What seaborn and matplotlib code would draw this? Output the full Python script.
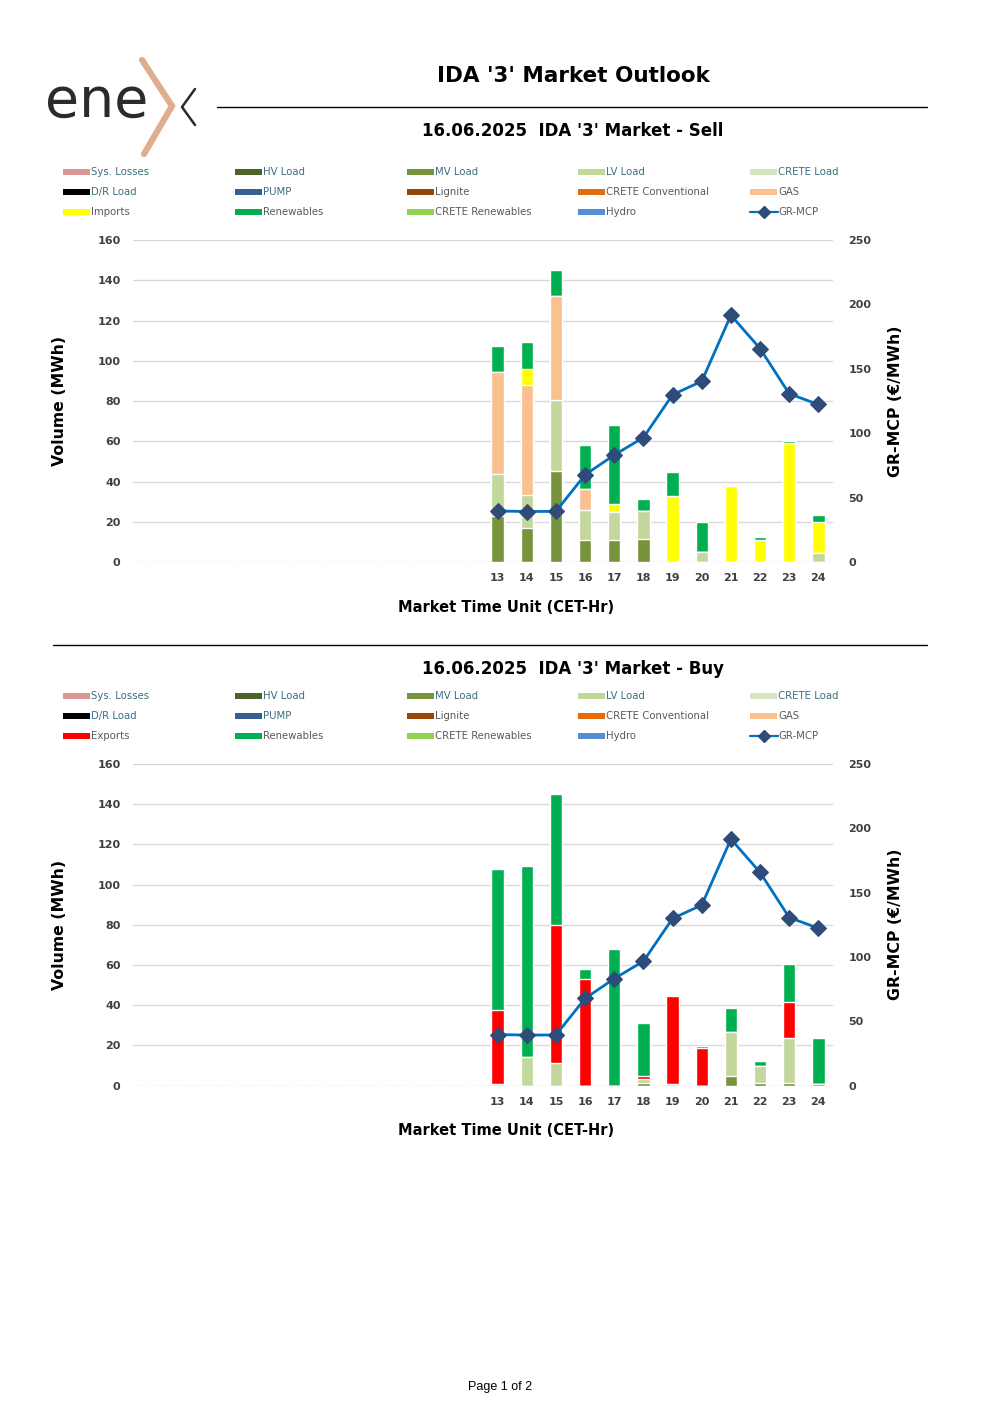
import numpy as np
import pandas as pd
import matplotlib
matplotlib.use("Agg")
import matplotlib.pyplot as plt
import seaborn as sns
from matplotlib.lines import Line2D
from matplotlib.patches import Rectangle

# hours of the day (only 13-24 traded in IDA 3)
hours = [str(h) for h in range(1, 25)]
active_hours = [str(h) for h in range(13, 25)]

# GR-MCP price, €/MWh, hours 13-24
gr_mcp = [39.6, 39.2, 39.3, 67.7, 83.1, 96.6, 129.9, 140.3, 191.6, 165.7, 130.6, 122.3]

# Sell side, MWh, hours 13-24
sell_mv_load = [22.7, 17.1, 45.4, 11.1, 10.9, 11.4, 0, 0, 0, 0, 0, 0]
sell_lv_load = [21.2, 16.0, 35.0, 14.9, 14.1, 13.8, 0, 5.0, 0, 0, 0, 4.5]
sell_gas = [50.7, 54.9, 51.8, 10.1, 0, 0, 0, 0, 0, 0, 0, 0]
sell_imports = [0, 7.9, 0, 0, 3.7, 0, 32.6, 0, 37.6, 10.8, 59.2, 15.5]
sell_renewables = [12.9, 13.3, 13.1, 21.9, 39.6, 6.1, 12.0, 15.0, 0.8, 1.8, 1.1, 3.5]

# Buy side, MWh, hours 13-24
buy_mv_load = [0, 0, 0, 0, 0, 1.3, 0, 0, 4.8, 1.0, 1.0, 0.8]
buy_lv_load = [0.7, 14.3, 11.3, 0, 0, 1.7, 0.8, 0, 21.9, 8.8, 22.8, 0]
buy_exports = [37.0, 0, 68.6, 53.0, 0, 1.8, 43.6, 18.8, 0, 0, 17.9, 0]
buy_renewables = [69.8, 94.8, 65.3, 4.8, 67.9, 26.3, 0, 1.0, 11.7, 2.3, 18.6, 22.6]

colors = {
    "Sys. Losses": "#DA9694", "HV Load": "#4F6228", "MV Load": "#77933C",
    "LV Load": "#C3D69B", "CRETE Load": "#D7E4BD", "D/R Load": "#000000",
    "PUMP": "#376092", "Lignite": "#974806", "CRETE Conventional": "#E46C0A",
    "GAS": "#FAC090", "Imports": "#FFFF00", "Exports": "#FF0000",
    "Renewables": "#00B050", "CRETE Renewables": "#92D050", "Hydro": "#558ED5",
}
LINE_C = "#0070C0"
MARK_C = "#2E4B7A"
TICK_C = "#404040"

sns.set_theme(style="white")
plt.rcParams["font.family"] = ["DejaVu Sans"]
plt.rcParams["text.color"] = "black"

W, H = 1000, 1415
fig = plt.figure(figsize=(10, 14.15), dpi=100)


def fx(x):
    return x / W


def fy(y):
    return 1 - y / H


def pad(vals):
    return [0.0] * 12 + list(vals)


def draw_legend(y0, third):
    names = ["Sys. Losses", "HV Load", "MV Load", "LV Load", "CRETE Load",
             "D/R Load", "PUMP", "Lignite", "CRETE Conventional", "GAS",
             third, "Renewables", "CRETE Renewables", "Hydro", "GR-MCP"]
    teal = {"Sys. Losses", "HV Load", "MV Load", "LV Load", "CRETE Load", "D/R Load", "PUMP"}
    cols = [63, 235, 407, 578, 750]
    for i, name in enumerate(names):
        x = cols[i % 5]
        y = y0 + 20 * (i // 5)
        if name == "GR-MCP":
            fig.add_artist(Line2D([fx(x), fx(x + 28)], [fy(y), fy(y)], color=LINE_C, lw=1.6))
            fig.add_artist(Line2D([fx(x + 14)], [fy(y)], marker="D", color=MARK_C, markersize=6))
        else:
            fig.add_artist(Rectangle((fx(x), fy(y + 3)), 27 / W, 6 / H,
                                     transform=fig.transFigure, color=colors[name], lw=0))
        fig.text(fx(x + 28), fy(y), name, fontsize=7.3, va="center", ha="left",
                 color="#3B6E80" if name in teal else "#595959")


def draw_market(top, bottom, series, subtitle, sub_y, third, leg_y):
    ax = fig.add_axes([fx(133), fy(bottom), 700 / W, (bottom - top) / H])

    # stacked bars: draw cumulative totals, tallest first
    cum = np.zeros(24)
    layers = []
    for name, vals in series:
        cum = cum + np.array(pad(vals))
        layers.append((name, cum.copy()))
    for name, total in reversed(layers):
        sns.barplot(x=hours, y=total, order=hours, color=colors[name],
                    width=0.42, errorbar=None, saturation=1, ax=ax, zorder=3)

    ax.set_ylim(0, 160)
    ax.set_yticks(range(0, 161, 20))
    ax.set_xlim(-0.5, 23.5)
    ax.set_xticks(range(24))
    ax.set_xticklabels([""] * 12 + active_hours)
    ax.yaxis.grid(True, color="#D9D9D9", lw=1)
    ax.set_axisbelow(True)
    ax.set_xlabel("")
    ax.set_ylabel("")
    ax.tick_params(axis="y", length=0, pad=9, labelsize=8, labelcolor=TICK_C)
    ax.tick_params(axis="x", length=0, pad=8, labelsize=8, labelcolor=TICK_C)
    for lab in ax.get_xticklabels() + ax.get_yticklabels():
        lab.set_fontweight("bold")

    ax2 = ax.twinx()
    pos = [hours.index(h) for h in active_hours]
    sns.lineplot(x=pos, y=gr_mcp, ax=ax2, color=LINE_C, lw=2, marker="D",
                 markersize=8, markerfacecolor=MARK_C, markeredgecolor=MARK_C,
                 legend=False, zorder=5)
    ax2.set_ylim(0, 250)
    ax2.set_yticks(range(0, 251, 50))
    ax2.set_xlim(-0.5, 23.5)
    ax2.set_ylabel("")
    ax2.tick_params(axis="y", length=0, pad=11, labelsize=8, labelcolor=TICK_C)
    for lab in ax2.get_yticklabels():
        lab.set_fontweight("bold")
    for a in (ax, ax2):
        for s in a.spines.values():
            s.set_visible(False)
        a.set_facecolor("none")

    fig.text(fx(60), fy((top + bottom) / 2), "Volume (MWh)", rotation=90,
             ha="center", va="center", fontsize=11.3, fontweight="bold")
    fig.text(fx(895), fy((top + bottom) / 2), "GR-MCP (€/MWh)", rotation=90,
             ha="center", va="center", fontsize=11.3, fontweight="bold")
    fig.text(fx(506), fy(bottom + 45), "Market Time Unit (CET-Hr)",
             ha="center", va="center", fontsize=10.5, fontweight="bold")
    fig.text(fx(573), fy(sub_y), subtitle, ha="center", va="center",
             fontsize=12, fontweight="bold")
    draw_legend(leg_y, third)


# header with logo
fig.text(fx(45), fy(117), "ene", fontsize=40, color="#2B2B2B", ha="left",
         va="baseline")
fig.add_artist(Line2D([fx(142), fx(172), fx(144)], [fy(60), fy(106), fy(154)],
                      color="#DFAE8F", lw=4.5, solid_joinstyle="miter"))
fig.add_artist(Line2D([fx(195), fx(182), fx(195)], [fy(89), fy(107), fy(125)],
                      color="#2B2B2B", lw=1.8))
fig.text(fx(573), fy(76), "IDA '3' Market Outlook", ha="center", va="center",
         fontsize=15.5, fontweight="bold")
fig.add_artist(Line2D([fx(217), fx(927)], [fy(107), fy(107)], color="black", lw=1))

sell_series = [("MV Load", sell_mv_load), ("LV Load", sell_lv_load), ("GAS", sell_gas),
               ("Imports", sell_imports), ("Renewables", sell_renewables)]
buy_series = [("MV Load", buy_mv_load), ("LV Load", buy_lv_load),
              ("Exports", buy_exports), ("Renewables", buy_renewables)]

draw_market(240, 562, sell_series, "16.06.2025  IDA '3' Market - Sell", 131, "Imports", 172)
fig.add_artist(Line2D([fx(53), fx(927)], [fy(645), fy(645)], color="black", lw=1))
draw_market(764, 1085.5, buy_series, "16.06.2025  IDA '3' Market - Buy", 669, "Exports", 696)

fig.text(fx(500), fy(1387), "Page 1 of 2", ha="center", va="center", fontsize=9,
         family=["Liberation Sans", "DejaVu Sans"])

fig.savefig("out.png", dpi=100, facecolor="white")
